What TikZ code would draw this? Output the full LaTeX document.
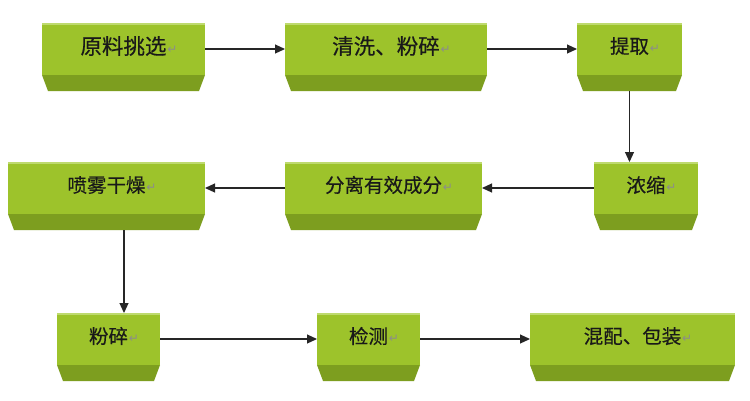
\documentclass[tikz,border=0pt]{standalone}
\usepackage{fontspec}
\newfontfamily\cjk[FakeBold=0.4]{Noto Sans CJK SC}
\newfontfamily\dejavu{DejaVu Sans}
\usetikzlibrary{arrows.meta}
\definecolor{facegreen}{RGB}{157,195,43}
\definecolor{bevelgreen}{RGB}{125,158,31}
\definecolor{toplight}{RGB}{190,218,110}
\tikzset{
  front/.style={inner sep=0pt, outer sep=0pt, minimum height=52pt},
  lbl/.style={font=\cjk\fontsize{19.5}{20}\selectfont, inner sep=0pt, text=black!90},
  lblbig/.style={font=\cjk\fontsize{21.5}{22}\selectfont, inner sep=0pt, text=black!90},
  pmark/.style={font=\dejavu\fontsize{12}{13}\selectfont, text=black!45, inner sep=0pt, anchor=base west},
  arr/.style={draw=black!85, line width=1.1pt, -{Triangle[length=10pt,width=9pt]}},
}
% #1 label style, #2 name, #3 x left, #4 x right, #5 y top, #6 text
\newcommand\gbox[6][lbl]{%
  \fill[bevelgreen] (#3,#5+52) -- (#4,#5+52) -- (#4-6,#5+68) -- (#3+6,#5+68) -- cycle;
  \fill[facegreen] (#3,#5) rectangle (#4,#5+52);
  \fill[toplight] (#3,#5) rectangle (#4,#5+1.5);
  \node[front, minimum width={#4-#3}] (#2) at ({(#3+#4)/2},{#5+26}) {};
  \coordinate (#2-b) at ({(#3+#4)/2},{#5+68});
  \node[#1] (#2-t) at ({(#3+#4)/2},{#5+23}) {#6};
  \node[pmark] (#2-p) at ([xshift=0.5pt,yshift=0.5pt]#2-t.base east) {↵};
}
\begin{document}
\begin{tikzpicture}[x=1pt,y=-1pt]
  \useasboundingbox (0,0) rectangle (750,400);
  \fill[white] (0,0) rectangle (750,400);
  \gbox[lblbig]{b1}{42}{205}{23}{原料挑选}
  \gbox[lblbig]{b2}{285}{487}{23}{清洗、粉碎}
  \gbox{b3}{577}{682}{23}{提取}
  \gbox{b4}{8}{205}{162}{喷雾干燥}
  \gbox{b5}{285}{482}{162}{分离有效成分}
  \gbox{b6}{594}{698}{162}{浓缩}
  \gbox{b7}{57}{160}{313}{粉碎}
  \gbox{b8}{317}{420}{313}{检测}
  \gbox{b9}{530}{735}{313}{混配、包装}
  \draw[arr] (b1.east) -- (b2.west);
  \draw[arr] (b2.east) -- (b3.west);
  \draw[arr] (b3-b) -- (b3-b |- b6.north);
  \draw[arr] (b6.west) -- (b5.east);
  \draw[arr] (b5.west) -- (b4.east);
  \coordinate (c4) at ([xshift=17.5pt]b4-b);
  \draw[arr] (c4) -- (c4 |- b7.north);
  \draw[arr] (b7.east) -- (b8.west);
  \draw[arr] (b8.east) -- (b9.west);
\end{tikzpicture}
\end{document}
